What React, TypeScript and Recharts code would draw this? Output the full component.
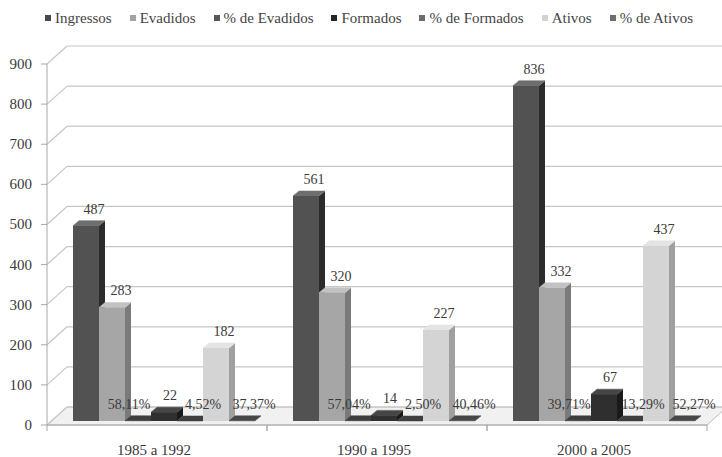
import React from 'react';
import { BarChart, Bar, XAxis, YAxis, CartesianGrid, Legend, LabelList } from 'recharts';

// ---- data ----
const periodos = ['1985 a 1992', '1990 a 1995', '2000 a 2005'];
const ingressos = [487, 561, 836];
const evadidos = [283, 320, 332];
const pctEvadidos = [0.5811, 0.5704, 0.3971];
const formados = [22, 14, 67];
const pctFormados = [0.0452, 0.025, 0.1329];
const ativos = [182, 227, 437];
const pctAtivos = [0.3737, 0.4046, 0.5227];
const yTicks = [0, 100, 200, 300, 400, 500, 600, 700, 800, 900];

const data = periodos.map((periodo, i) => ({
  periodo,
  ingressos: ingressos[i],
  evadidos: evadidos[i],
  pctEvadidos: pctEvadidos[i],
  formados: formados[i],
  pctFormados: pctFormados[i],
  ativos: ativos[i],
  pctAtivos: pctAtivos[i],
}));

// ---- layout ----
const W = 722;
const H = 457;
const MARGIN = { top: 64, right: 15, bottom: 7, left: 7 };
const Y_AXIS_W = 40;
const X_AXIS_H = 25;
const PLOT_LEFT = MARGIN.left + Y_AXIS_W;
const PLOT_RIGHT = W - MARGIN.right;
const PLOT_BOTTOM = H - MARGIN.bottom - X_AXIS_H;
const BAND = (PLOT_RIGHT - PLOT_LEFT) / periodos.length;
const WALL_DX = 20;
const WALL_DY = 18;
const BAR_DX = 7;
const BAR_DY = -4;
const DEPTH_X = 6;
const DEPTH_Y = 5;

const FONT = "'Liberation Serif', 'Times New Roman', serif";
const GRID = '#c6c6c6';
const AXIS = '#a8a8a8';
const TEXT = '#3a3a3a';

type Serie = {
  key: string;
  name: string;
  front: string;
  top: string;
  side: string;
  legend: string;
  pct: boolean;
  labelDx: number;
};

const series: Serie[] = [
  { key: 'ingressos', name: 'Ingressos', front: '#525252', top: '#6e6e6e', side: '#2b2b2b', legend: '#484848', pct: false, labelDx: 8 },
  { key: 'evadidos', name: 'Evadidos', front: '#a6a6a6', top: '#c2c2c2', side: '#7a7a7a', legend: '#a3a3a3', pct: false, labelDx: 9 },
  { key: 'pctEvadidos', name: '% de Evadidos', front: '#3b3b3b', top: '#3d3d3d', side: '#252525', legend: '#575757', pct: true, labelDx: -9 },
  { key: 'formados', name: 'Formados', front: '#2f2f2f', top: '#464646', side: '#1a1a1a', legend: '#262626', pct: false, labelDx: 6 },
  { key: 'pctFormados', name: '% de Formados', front: '#3b3b3b', top: '#3f3f3f', side: '#252525', legend: '#6a6a6a', pct: true, labelDx: 13 },
  { key: 'ativos', name: 'Ativos', front: '#d4d4d4', top: '#e4e4e4', side: '#a0a0a0', legend: '#d2d2d2', pct: false, labelDx: 8 },
  { key: 'pctAtivos', name: '% de Ativos', front: '#454545', top: '#474747', side: '#2a2a2a', legend: '#6e6e6e', pct: true, labelDx: 12 },
];

const formatPct = (v: number) => `${(v * 100).toFixed(2).replace('.', ',')}%`;

// 3D box: front face, top face and right side face
const makeBox = (s: Serie) => (p: any) => {
  const x = p.x + BAR_DX;
  const y = p.y + BAR_DY;
  const w = p.width;
  const h = Math.max(p.height, 0);
  return (
    <g>
      <polygon
        points={`${x + w},${y} ${x + w + DEPTH_X},${y - DEPTH_Y} ${x + w + DEPTH_X},${y + h - DEPTH_Y} ${x + w},${y + h}`}
        fill={s.side}
      />
      <polygon
        points={`${x},${y} ${x + DEPTH_X},${y - DEPTH_Y} ${x + w + DEPTH_X},${y - DEPTH_Y} ${x + w},${y}`}
        fill={s.top}
        stroke={s.top}
        strokeWidth={0.5}
      />
      <rect x={x} y={y} width={w} height={h} fill={s.front} />
    </g>
  );
};

const makeLabel = (s: Serie) => (p: any) => {
  const cx = p.x + BAR_DX + p.width / 2 + s.labelDx;
  const cy = p.y + BAR_DY - 12;
  const txt = s.pct ? formatPct(Number(p.value)) : String(p.value);
  return (
    <text x={cx} y={cy} textAnchor="middle" fontFamily={FONT} fontSize={14} fill={TEXT}>
      {txt}
    </text>
  );
};

// back wall gridlines with the side-wall diagonals; the lowest one also draws the floor
const gridLine = (p: any) => {
  const { x1, x2, y1 } = p;
  const isFloor = Math.abs(y1 - PLOT_BOTTOM) < 1;
  return (
    <g key={p.key}>
      {isFloor && (
        <polygon
          points={`${x1},${y1} ${x2},${y1} ${x2 + WALL_DX},${y1 - WALL_DY} ${x1 + WALL_DX},${y1 - WALL_DY}`}
          fill="#f1f1f1"
          stroke="#bdbdbd"
          strokeWidth={1}
        />
      )}
      <line x1={x1} y1={y1} x2={x1 + WALL_DX} y2={y1 - WALL_DY} stroke={GRID} strokeWidth={1.2} />
      <line x1={x1 + WALL_DX} y1={y1 - WALL_DY} x2={x2 + WALL_DX} y2={y1 - WALL_DY} stroke={GRID} strokeWidth={1.2} />
    </g>
  );
};

const CategoryTick = (p: any) => {
  const { x, payload } = p;
  return (
    <g>
      <line x1={x - BAND / 2} y1={PLOT_BOTTOM} x2={x - BAND / 2} y2={PLOT_BOTTOM + 6} stroke={AXIS} />
      <line x1={x + BAND / 2} y1={PLOT_BOTTOM} x2={x + BAND / 2} y2={PLOT_BOTTOM + 6} stroke={AXIS} />
      <text x={x - 3} y={PLOT_BOTTOM + 30} textAnchor="middle" fontFamily={FONT} fontSize={15} fill={TEXT}>
        {payload.value}
      </text>
    </g>
  );
};

const ValueTick = (p: any) => {
  const { y, payload } = p;
  return (
    <text x={PLOT_LEFT - 15} y={y + 5} textAnchor="end" fontFamily={FONT} fontSize={15} fill={TEXT}>
      {payload.value}
    </text>
  );
};

const LegendRow = () => (
  <div style={{ display: 'flex', alignItems: 'center', fontFamily: FONT, fontSize: 15, color: '#444', lineHeight: '18px', whiteSpace: 'nowrap' }}>
    {series.map((s) => (
      <div key={s.key} style={{ display: 'flex', alignItems: 'center', marginRight: 18 }}>
        <span style={{ display: 'inline-block', width: 6, height: 6, background: s.legend, marginRight: 4 }} />
        <span>{s.name}</span>
      </div>
    ))}
  </div>
);

export default function App() {
  return (
    <div style={{ width: W, height: H, background: '#fff' }}>
      <style>{'body{margin:0}'}</style>
      <BarChart
        width={W}
        height={H}
        data={data}
        margin={MARGIN}
        barCategoryGap={19}
        barGap={0}
      >
        <CartesianGrid vertical={false} horizontal={gridLine} />
        <XAxis
          dataKey="periodo"
          height={X_AXIS_H}
          axisLine={{ stroke: AXIS }}
          tickLine={false}
          tick={<CategoryTick />}
          interval={0}
        />
        <XAxis xAxisId="lbl" dataKey="periodo" hide />
        <YAxis
          width={Y_AXIS_W}
          domain={[0, 900]}
          ticks={yTicks}
          interval={0}
          axisLine={{ stroke: AXIS }}
          tickLine={{ stroke: AXIS }}
          tickSize={6}
          tick={<ValueTick />}
        />
        <Legend
          verticalAlign="middle"
          layout="horizontal"
          wrapperStyle={{ top: 9, left: 45, width: 'auto', height: 'auto' }}
          content={() => <LegendRow />}
        />
        {series.map((s) => (
          <Bar
            key={s.key}
            dataKey={s.key}
            name={s.name}
            fill={s.front}
            shape={makeBox(s)}
            isAnimationActive={false}
          />
        ))}
        {series.map((s) => (
          <Bar
            key={`${s.key}-lbl`}
            xAxisId="lbl"
            dataKey={s.key}
            fill="none"
            legendType="none"
            shape={() => <g />}
            isAnimationActive={false}
          >
            <LabelList dataKey={s.key} content={makeLabel(s)} />
          </Bar>
        ))}
      </BarChart>
    </div>
  );
}
